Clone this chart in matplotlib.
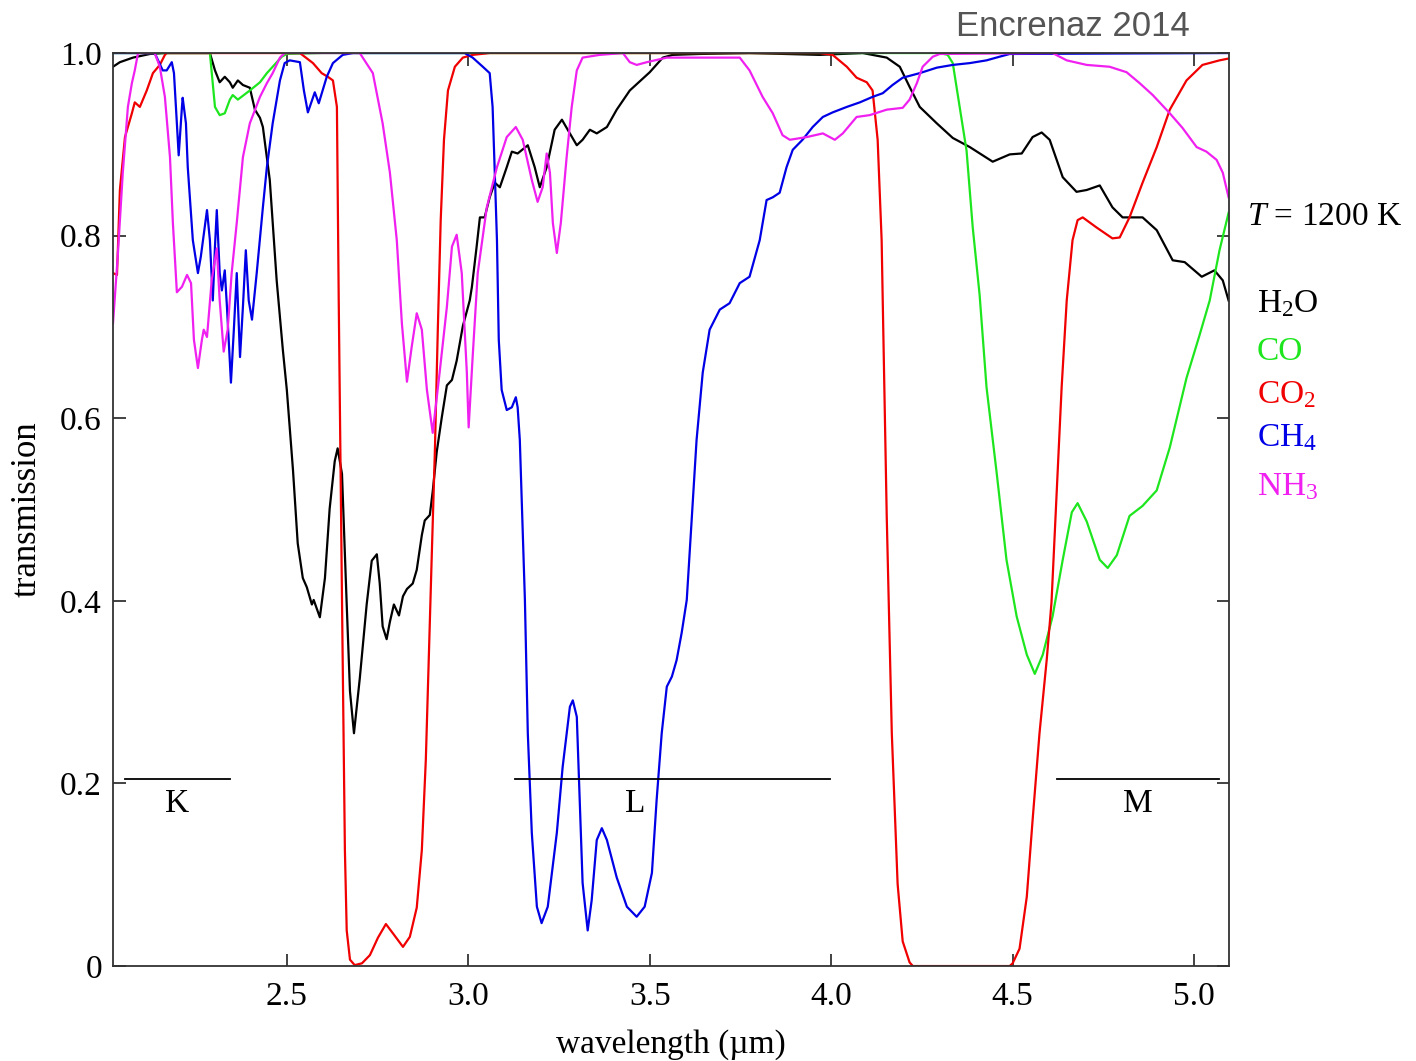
import matplotlib
matplotlib.use("Agg")
import matplotlib.pyplot as plt

# ============================================
# transmission spectra, T = 1200 K (Encrenaz 2014)
# ============================================

h2o_wl = [2.021, 2.040, 2.076, 2.123, 2.164, 2.288, 2.302, 2.315, 2.329, 2.343,
          2.351, 2.365, 2.379, 2.398, 2.412, 2.426, 2.434, 2.453, 2.472, 2.489,
          2.500, 2.517, 2.530, 2.544, 2.555, 2.569, 2.574, 2.591, 2.605, 2.618,
          2.632, 2.640, 2.652, 2.665, 2.674, 2.685, 2.701, 2.720, 2.734, 2.748,
          2.756, 2.764, 2.775, 2.784, 2.795, 2.809, 2.820, 2.831, 2.847, 2.858,
          2.872, 2.880, 2.894, 2.902, 2.913, 2.927, 2.941, 2.955, 2.968, 2.985,
          3.004, 3.010, 3.023, 3.032, 3.045, 3.059, 3.073, 3.087, 3.106, 3.120,
          3.136, 3.164, 3.183, 3.197, 3.216, 3.238, 3.258, 3.274, 3.299, 3.315,
          3.335, 3.354, 3.382, 3.409, 3.445, 3.500, 3.536, 3.563, 3.638, 3.775,
          3.968, 4.087, 4.153, 4.189, 4.216, 4.244, 4.291, 4.335, 4.382, 4.445,
          4.492, 4.525, 4.555, 4.580, 4.602, 4.638, 4.676, 4.704, 4.740, 4.775,
          4.803, 4.858, 4.897, 4.941, 4.974, 5.021, 5.056, 5.079, 5.095]
h2o_tr = [0.985, 0.990, 0.995, 0.999, 1.000, 1.000, 0.981, 0.968, 0.974, 0.968,
          0.962, 0.970, 0.965, 0.962, 0.938, 0.929, 0.919, 0.861, 0.751, 0.675,
          0.631, 0.543, 0.463, 0.425, 0.415, 0.396, 0.401, 0.382, 0.425, 0.501,
          0.553, 0.567, 0.539, 0.396, 0.301, 0.255, 0.315, 0.396, 0.444, 0.451,
          0.419, 0.372, 0.358, 0.377, 0.396, 0.384, 0.405, 0.413, 0.419, 0.434,
          0.472, 0.488, 0.494, 0.520, 0.563, 0.601, 0.636, 0.642, 0.663, 0.701,
          0.729, 0.744, 0.788, 0.820, 0.820, 0.842, 0.858, 0.853, 0.875, 0.892,
          0.890, 0.899, 0.875, 0.853, 0.875, 0.916, 0.927, 0.916, 0.899, 0.905,
          0.916, 0.912, 0.919, 0.938, 0.959, 0.979, 0.995, 0.998, 0.999, 1.000,
          0.998, 1.000, 0.995, 0.985, 0.963, 0.941, 0.923, 0.907, 0.897, 0.881,
          0.889, 0.890, 0.908, 0.913, 0.905, 0.864, 0.848, 0.850, 0.855, 0.831,
          0.820, 0.820, 0.806, 0.773, 0.771, 0.755, 0.762, 0.751, 0.729]

co_wl = [2.021, 2.288, 2.302, 2.315, 2.329, 2.343, 2.351, 2.365, 2.398, 2.426,
         2.445, 2.461, 2.486, 2.500, 2.600, 4.300, 4.321, 4.335, 4.354, 4.373,
         4.390, 4.409, 4.428, 4.456, 4.483, 4.511, 4.539, 4.561, 4.583, 4.610,
         4.638, 4.663, 4.679, 4.704, 4.740, 4.762, 4.787, 4.822, 4.858, 4.897,
         4.933, 4.979, 5.015, 5.043, 5.070, 5.095]
co_tr = [1.000, 1.000, 0.941, 0.932, 0.934, 0.949, 0.954, 0.949, 0.959, 0.968,
         0.978, 0.985, 0.996, 0.999, 1.000, 1.000, 0.998, 0.989, 0.941, 0.893,
         0.809, 0.735, 0.634, 0.540, 0.445, 0.383, 0.341, 0.320, 0.341, 0.383,
         0.445, 0.497, 0.507, 0.487, 0.445, 0.436, 0.450, 0.493, 0.504, 0.521,
         0.568, 0.644, 0.691, 0.729, 0.784, 0.825]

co2_wl = [2.021, 2.032, 2.040, 2.054, 2.073, 2.081, 2.095, 2.114, 2.131, 2.150,
          2.164, 2.169, 2.536, 2.572, 2.596, 2.613, 2.627, 2.638, 2.643, 2.652,
          2.660, 2.665, 2.674, 2.687, 2.707, 2.729, 2.751, 2.773, 2.792, 2.820,
          2.839, 2.858, 2.872, 2.883, 2.891, 2.899, 2.908, 2.916, 2.924, 2.933,
          2.944, 2.963, 2.985, 3.012, 3.059, 3.968, 4.004, 4.043, 4.070, 4.098,
          4.114, 4.128, 4.139, 4.142, 4.153, 4.167, 4.183, 4.197, 4.216, 4.225,
          4.492, 4.500, 4.519, 4.539, 4.555, 4.574, 4.594, 4.607, 4.621, 4.635,
          4.649, 4.665, 4.679, 4.693, 4.731, 4.775, 4.795, 4.822, 4.858, 4.897,
          4.933, 4.979, 5.023, 5.070, 5.095]
co2_tr = [0.759, 0.757, 0.850, 0.908, 0.934, 0.946, 0.941, 0.959, 0.978, 0.987,
          0.998, 1.000, 1.000, 0.989, 0.978, 0.974, 0.970, 0.941, 0.729, 0.401,
          0.127, 0.039, 0.007, 0.001, 0.003, 0.012, 0.031, 0.046, 0.036, 0.021,
          0.032, 0.064, 0.127, 0.226, 0.335, 0.445, 0.565, 0.697, 0.817, 0.905,
          0.959, 0.985, 0.995, 0.998, 1.000, 1.000, 0.998, 0.985, 0.973, 0.968,
          0.959, 0.905, 0.795, 0.729, 0.493, 0.255, 0.090, 0.027, 0.004, 0.000,
          0.000, 0.003, 0.019, 0.076, 0.160, 0.255, 0.336, 0.398, 0.516, 0.634,
          0.729, 0.795, 0.817, 0.820, 0.809, 0.797, 0.798, 0.820, 0.858, 0.897,
          0.938, 0.970, 0.987, 0.992, 0.994]

ch4_wl = [2.021, 2.136, 2.158, 2.169, 2.183, 2.189, 2.197, 2.202, 2.211, 2.213,
          2.222, 2.227, 2.241, 2.255, 2.263, 2.280, 2.288, 2.296, 2.302, 2.307,
          2.315, 2.321, 2.329, 2.335, 2.346, 2.354, 2.362, 2.371, 2.379, 2.387,
          2.395, 2.404, 2.417, 2.434, 2.445, 2.461, 2.481, 2.494, 2.508, 2.536,
          2.547, 2.558, 2.577, 2.588, 2.610, 2.627, 2.654, 2.682, 2.990, 3.012,
          3.040, 3.059, 3.067, 3.073, 3.079, 3.084, 3.092, 3.106, 3.120, 3.131,
          3.136, 3.142, 3.156, 3.164, 3.175, 3.189, 3.202, 3.219, 3.244, 3.260,
          3.280, 3.288, 3.299, 3.307, 3.315, 3.329, 3.340, 3.354, 3.368, 3.382,
          3.409, 3.437, 3.464, 3.486, 3.506, 3.519, 3.533, 3.547, 3.561, 3.574,
          3.588, 3.602, 3.629, 3.646, 3.665, 3.693, 3.720, 3.748, 3.775, 3.803,
          3.822, 3.839, 3.858, 3.877, 3.894, 3.921, 3.949, 3.977, 4.004, 4.043,
          4.079, 4.114, 4.142, 4.169, 4.197, 4.244, 4.291, 4.335, 4.382, 4.428,
          4.464, 4.492, 5.095]
ch4_tr = [1.000, 1.000, 0.981, 0.981, 0.990, 0.978, 0.923, 0.888, 0.941, 0.951,
          0.923, 0.875, 0.795, 0.759, 0.777, 0.828, 0.795, 0.729, 0.788, 0.828,
          0.759, 0.740, 0.762, 0.722, 0.639, 0.697, 0.759, 0.667, 0.722, 0.784,
          0.729, 0.708, 0.759, 0.831, 0.875, 0.923, 0.970, 0.989, 0.992, 0.990,
          0.959, 0.935, 0.957, 0.945, 0.974, 0.989, 0.998, 1.000, 1.000, 0.995,
          0.985, 0.978, 0.941, 0.869, 0.795, 0.686, 0.631, 0.609, 0.612, 0.623,
          0.612, 0.576, 0.401, 0.255, 0.146, 0.065, 0.047, 0.065, 0.146, 0.218,
          0.284, 0.291, 0.273, 0.182, 0.091, 0.039, 0.072, 0.138, 0.151, 0.138,
          0.097, 0.065, 0.054, 0.065, 0.102, 0.182, 0.255, 0.306, 0.317, 0.335,
          0.365, 0.401, 0.576, 0.650, 0.697, 0.719, 0.726, 0.748, 0.755, 0.795,
          0.839, 0.842, 0.847, 0.875, 0.894, 0.905, 0.919, 0.930, 0.935, 0.941,
          0.946, 0.952, 0.956, 0.965, 0.973, 0.978, 0.984, 0.987, 0.989, 0.992,
          0.996, 0.999, 1.000]

nh3_wl = [2.021, 2.034, 2.048, 2.062, 2.073, 2.081, 2.090, 2.136, 2.150, 2.164,
          2.178, 2.186, 2.197, 2.211, 2.225, 2.236, 2.244, 2.255, 2.266, 2.271,
          2.280, 2.293, 2.307, 2.315, 2.326, 2.337, 2.348, 2.362, 2.379, 2.398,
          2.426, 2.445, 2.461, 2.481, 2.494, 2.701, 2.737, 2.764, 2.784, 2.803,
          2.817, 2.831, 2.844, 2.858, 2.872, 2.886, 2.902, 2.921, 2.941, 2.955,
          2.968, 2.982, 2.996, 3.001, 3.012, 3.026, 3.051, 3.079, 3.106, 3.131,
          3.150, 3.175, 3.191, 3.205, 3.216, 3.225, 3.233, 3.244, 3.255, 3.271,
          3.285, 3.299, 3.315, 3.362, 3.426, 3.445, 3.464, 3.492, 3.547, 3.657,
          3.748, 3.775, 3.811, 3.839, 3.866, 3.886, 3.933, 3.977, 4.010, 4.032,
          4.070, 4.106, 4.153, 4.197, 4.216, 4.236, 4.252, 4.280, 4.299, 4.610,
          4.649, 4.704, 4.767, 4.814, 4.850, 4.886, 4.933, 4.968, 5.007, 5.034,
          5.062, 5.079, 5.095]
nh3_tr = [0.704, 0.777, 0.869, 0.941, 0.967, 0.981, 1.000, 1.000, 0.985, 0.952,
          0.886, 0.814, 0.738, 0.744, 0.757, 0.748, 0.686, 0.655, 0.686, 0.697,
          0.689, 0.751, 0.786, 0.729, 0.673, 0.697, 0.759, 0.814, 0.886, 0.923,
          0.952, 0.967, 0.978, 0.995, 1.000, 1.000, 0.978, 0.923, 0.869, 0.795,
          0.704, 0.640, 0.678, 0.715, 0.697, 0.631, 0.584, 0.650, 0.722, 0.788,
          0.801, 0.759, 0.650, 0.590, 0.667, 0.759, 0.831, 0.875, 0.908, 0.919,
          0.905, 0.861, 0.837, 0.853, 0.890, 0.869, 0.814, 0.781, 0.814, 0.886,
          0.941, 0.981, 0.995, 0.998, 1.000, 0.990, 0.987, 0.990, 0.995, 0.995,
          0.995, 0.981, 0.952, 0.934, 0.910, 0.905, 0.908, 0.912, 0.905, 0.912,
          0.930, 0.932, 0.938, 0.940, 0.949, 0.967, 0.985, 0.996, 0.999, 1.000,
          0.992, 0.987, 0.985, 0.979, 0.967, 0.954, 0.934, 0.918, 0.897, 0.892,
          0.883, 0.869, 0.842]

band_names = ["K", "L", "M"]
band_lo = [2.054, 3.128, 4.621]
band_hi = [2.343, 3.996, 5.068]
band_label_x = [2.198, 3.461, 4.844]
band_level = 0.205

x_ticks = [2.5, 3.0, 3.5, 4.0, 4.5, 5.0]
y_ticks = [0, 0.2, 0.4, 0.6, 0.8, 1.0]
y_tick_labels = ["0", "0.2", "0.4", "0.6", "0.8", "1.0"]

species = ["H$_2$O", "CO", "CO$_2$", "CH$_4$", "NH$_3$"]
colors = ["#000000", "#1ee61e", "#f00000", "#0000e6", "#f020f0"]
# ============================================

plt.rcParams["font.family"] = ["Liberation Serif", "DejaVu Serif"]
plt.rcParams["mathtext.fontset"] = "custom"
plt.rcParams["mathtext.rm"] = "Liberation Serif"
plt.rcParams["mathtext.it"] = "Liberation Serif:italic"


def main():
    fig = plt.figure(figsize=(14.16, 10.61), dpi=100)
    ax = fig.add_axes([0.0798, 0.0895, 0.7881, 0.8605])

    curves = [(h2o_wl, h2o_tr), (co_wl, co_tr), (co2_wl, co2_tr),
              (ch4_wl, ch4_tr), (nh3_wl, nh3_tr)]
    for (wl, tr), c in zip(curves, colors):
        ax.plot(wl, tr, color=c, lw=1.6, solid_joinstyle="round")

    # band markers
    for name, lo, hi, lx in zip(band_names, band_lo, band_hi, band_label_x):
        ax.plot([lo, hi], [band_level, band_level], color="black", lw=1.3)
        ax.text(lx, band_level - 0.027, name, ha="center",
                va="center", fontsize=24)

    ax.set_xlim(2.021, 5.096)
    ax.set_ylim(0, 1.0)
    ax.set_xticks(x_ticks)
    ax.set_xticklabels([f"{v:.1f}" for v in x_ticks])
    ax.set_yticks(y_ticks)
    ax.set_yticklabels(y_tick_labels)
    ax.tick_params(direction="in", length=9, width=1.2, top=True, right=True,
                   labelsize=24, color="#222222")
    ax.tick_params(axis="x", pad=11)
    ax.tick_params(axis="y", pad=8)
    for sp in ax.spines.values():
        sp.set_linewidth(1.3)
        sp.set_color("#333333")

    ax.set_xlabel("wavelength (\u00b5m)", fontsize=24)
    ax.xaxis.set_label_coords(0.5, -0.069)
    ax.set_ylabel("transmission", fontsize=25)
    ax.yaxis.set_label_coords(-0.062, 0.5)

    # labels to the right of the frame
    ax.text(1.016, 0.812, "$T$ = 1200 K", transform=ax.transAxes,
            fontsize=24, va="baseline", ha="left")
    legend_y = [0.716, 0.664, 0.617, 0.569, 0.516]
    for name, c, yy in zip(species, colors, legend_y):
        ax.text(1.025, yy, name, color=c, transform=ax.transAxes,
                fontsize=24, va="baseline", ha="left")

    fig.text(0.8405, 0.966, "Encrenaz 2014", ha="right", va="baseline",
             fontsize=25, color="#555555", family=["Liberation Sans", "DejaVu Sans"])

    fig.savefig("out.png", dpi=100)


if __name__ == "__main__":
    main()
